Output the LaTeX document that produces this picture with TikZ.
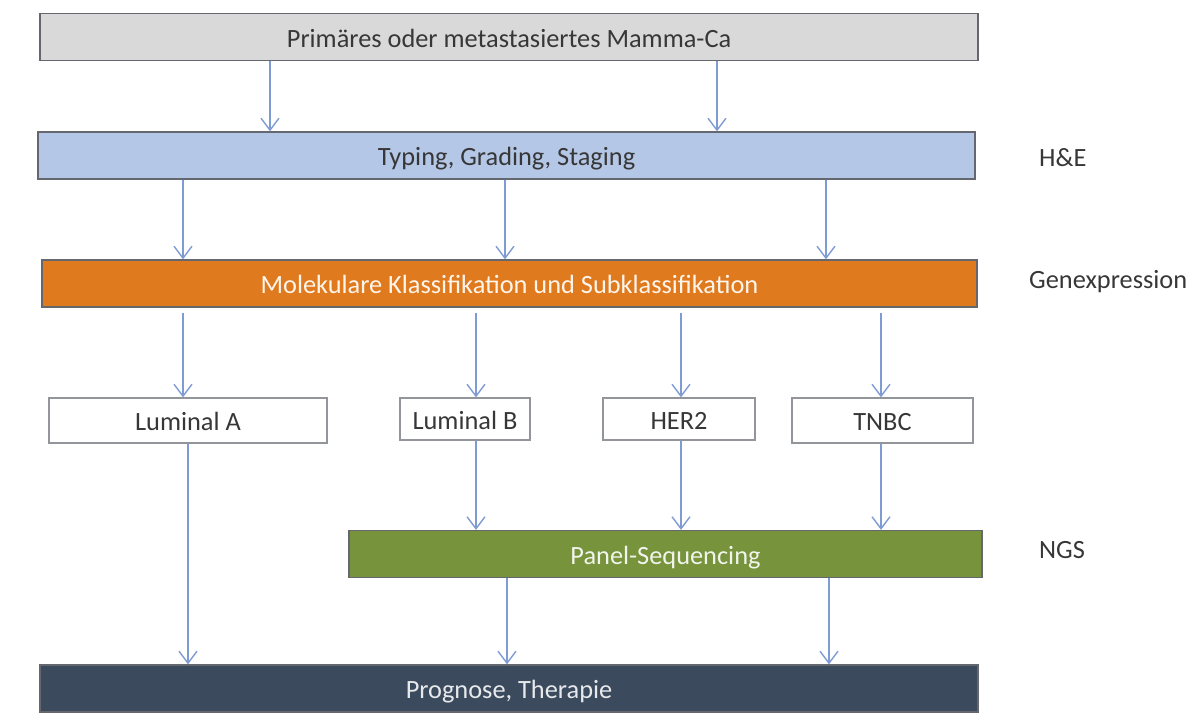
\documentclass[tikz,border=0pt]{standalone}
\usepackage{fontspec}
\setmainfont{Carlito}
\usepackage{xcolor}
\usepackage{tikz}
\usetikzlibrary{positioning,arrows.meta}
\definecolor{lgray}{RGB}{217,217,217}
\definecolor{lblue}{RGB}{180,199,231}
\definecolor{orng}{RGB}{224,122,30}
\definecolor{olive}{RGB}{119,147,60}
\definecolor{slate}{RGB}{59,75,93}
\definecolor{edge}{RGB}{100,104,110}
\definecolor{arrblue}{RGB}{127,155,212}
\definecolor{txt}{RGB}{55,55,55}

\begin{document}
\begin{tikzpicture}[
  x=0.02cm, y=-0.02cm,
  every node/.style={font=\fontsize{15}{18}\selectfont, text=txt},
  bar/.style={draw=edge, line width=0.7pt, minimum height=0.94cm, inner sep=0pt, text height=2.6ex, text depth=0.1ex},
  subtype/.style={draw=edge!70, line width=0.7pt, fill=white, minimum height=0.9cm, inner sep=0pt, text height=2.5ex, text depth=0.1ex},
  side/.style={anchor=west},
  arr/.style={-{Straight Barb[length=2.4mm,width=3.6mm]}, line width=0.8pt, arrblue}
]
\useasboundingbox (0,0) rectangle (1190,716);

% main bars
\node[bar, fill=lgray, minimum width=18.76cm] (tumor) at (509,37) {Primäres oder metastasiertes Mamma-Ca};
\node[bar, fill=lblue, minimum width=18.74cm] (hne) at (506.5,155.5) {Typing, Grading, Staging};
\node[bar, fill=orng, minimum width=18.7cm, text=orange!8] (molek) at (509.5,283.5) {Molekulare Klassifikation und Subklassifikation};

% subtypes
\node[subtype, minimum width=5.56cm] (lumA) at (188,420.5) {Luminal A};
\node[subtype, minimum width=2.6cm, minimum height=0.84cm] (lumB) at (465,419) {Luminal B};
\node[subtype, minimum width=3.04cm, minimum height=0.84cm] (her) at (679,419) {HER2};
\node[subtype, minimum width=3.62cm] (tnbc) at (882.5,420.5) {TNBC};

\node[bar, fill=olive, minimum width=12.66cm, text=olive!10] (panel) at (665.5,554) {Panel-Sequencing};
\node[bar, fill=slate, minimum width=18.76cm, text=slate!12] (prog) at (509,688.5) {Prognose, Therapie};

% method labels
\node[side] (lblHE) at (1033,158) {H\&E};
\node[side] (lblGE) at (1023,282) {Genexpression};
\node[side] (lblNGS) at (1033,550) {NGS};

% connectors
\foreach \x in {270,717}
  \draw[arr] (tumor.south -| \x,0) -- (hne.north -| \x,0);
\foreach \x in {183,505,826}
  \draw[arr] (hne.south -| \x,0) -- (molek.north -| \x,0);
\draw[arr] ([yshift=-0.1cm]molek.south -| 183,0) -- (lumA.north -| 183,0);
\draw[arr] ([yshift=-0.1cm]molek.south -| 476,0) -- (lumB.north -| 476,0);
\draw[arr] ([yshift=-0.1cm]molek.south -| 681,0) -- (her.north -| 681,0);
\draw[arr] ([yshift=-0.1cm]molek.south -| 881,0) -- (tnbc.north -| 881,0);
\draw[arr] (lumB.south -| 476,0) -- (panel.north -| 476,0);
\draw[arr] (her.south -| 681,0) -- (panel.north -| 681,0);
\draw[arr] (tnbc.south -| 881,0) -- (panel.north -| 881,0);
\draw[arr] (lumA.south -| 188,0) -- (prog.north -| 188,0);
\foreach \x in {507,829}
  \draw[arr] (panel.south -| \x,0) -- (prog.north -| \x,0);

\end{tikzpicture}
\end{document}
